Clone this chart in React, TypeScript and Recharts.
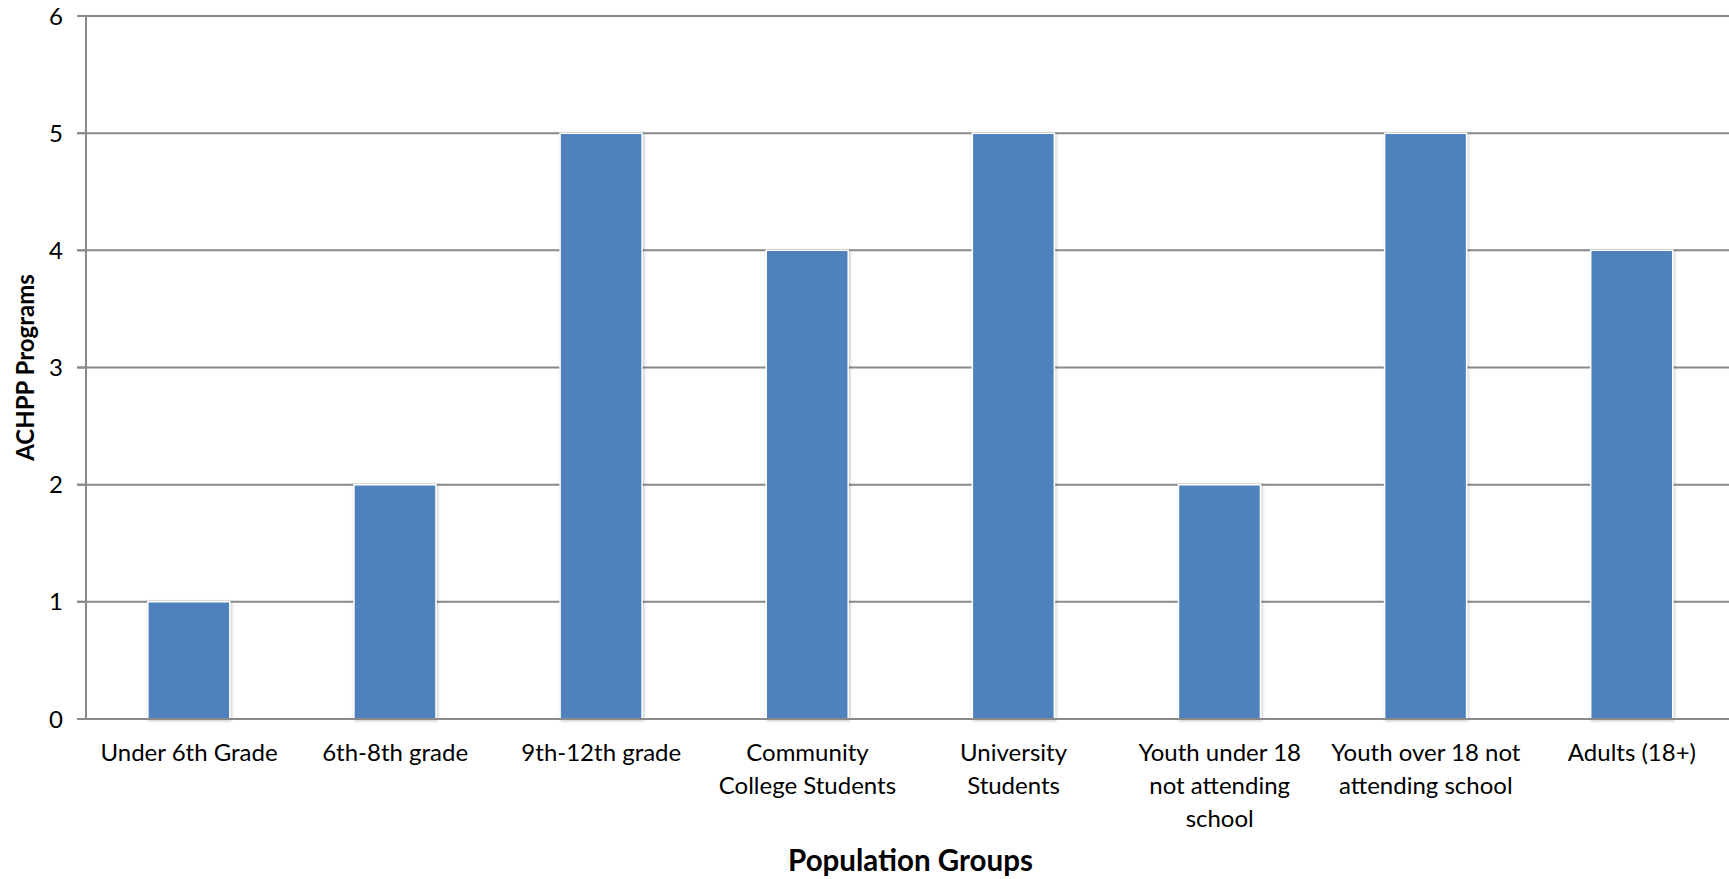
import React from "react";
import {
  BarChart,
  Bar,
  CartesianGrid,
  XAxis,
  YAxis,
  Label,
} from "recharts";

const categories = [
  "Under 6th Grade",
  "6th-8th grade",
  "9th-12th grade",
  "Community\nCollege Students",
  "University\nStudents",
  "Youth under 18\nnot attending\nschool",
  "Youth over 18 not\nattending school",
  "Adults (18+)",
];
const programs = [1, 2, 5, 4, 5, 2, 5, 4];
const yTicks = [0, 1, 2, 3, 4, 5, 6];

const data = categories.map((name, i) => ({ name, programs: programs[i] }));

const FONT = "Lato, 'Open Sans', sans-serif";

const CategoryTick = (props: any) => {
  const { x, y, payload } = props;
  const lines = String(payload.value).split("\n");
  return (
    <text x={x} y={y} textAnchor="middle" fill="#000" fontSize={24} fontFamily={FONT}>
      {lines.map((line, i) => (
        <tspan key={i} x={x} dy={i === 0 ? 34 : 33}>
          {line}
        </tspan>
      ))}
    </text>
  );
};

const App: React.FC = () => {
  return (
    <div style={{ position: "absolute", left: 0, top: 0, background: "#fff", overflow: "hidden", width: 1729, height: 879 }}>
      <BarChart
        width={1729}
        height={879}
        data={data}
        margin={{ top: 16, right: -6, bottom: 0, left: 0 }}
        barCategoryGap="30%"
      >
        <defs>
          <filter id="barShadow" x="-10%" y="-5%" width="120%" height="110%">
            <feDropShadow dx="1" dy="1" stdDeviation="1.5" floodColor="#000" floodOpacity="0.25" />
          </filter>
        </defs>
        <CartesianGrid vertical={false} stroke="#8a8a8a" strokeWidth={2} x={77} width={1660} />
        <XAxis
          dataKey="name"
          interval={0}
          height={160}
          tickLine={false}
          axisLine={{ stroke: "#8a8a8a", strokeWidth: 2 }}
          tick={<CategoryTick />}
        >
          <Label
            value="Population Groups"
            position="insideBottom"
            offset={8}
            style={{ fontFamily: FONT, fontSize: 29.5, fontWeight: "bold", fill: "#000" }}
          />
        </XAxis>
        <YAxis
          width={86}
          domain={[0, 6]}
          ticks={yTicks}
          interval={0}
          tickSize={9}
          tickMargin={14}
          axisLine={{ stroke: "#8a8a8a", strokeWidth: 2 }}
          tickLine={{ stroke: "#8a8a8a", strokeWidth: 2 }}
          tick={{ fill: "#000", fontSize: 24, fontFamily: FONT }}
        >
          <Label
            value="ACHPP Programs"
            angle={-90}
            position="insideLeft"
            offset={25}
            style={{ fontFamily: FONT, fontSize: 24, fontWeight: "bold", fill: "#000", textAnchor: "middle" }}
          />
        </YAxis>
        <Bar
          dataKey="programs"
          fill="#4f81bd"
          stroke="#ffffff"
          strokeWidth={1.5}
          filter="url(#barShadow)"
          isAnimationActive={false}
        />
      </BarChart>
    </div>
  );
};

export default App;
